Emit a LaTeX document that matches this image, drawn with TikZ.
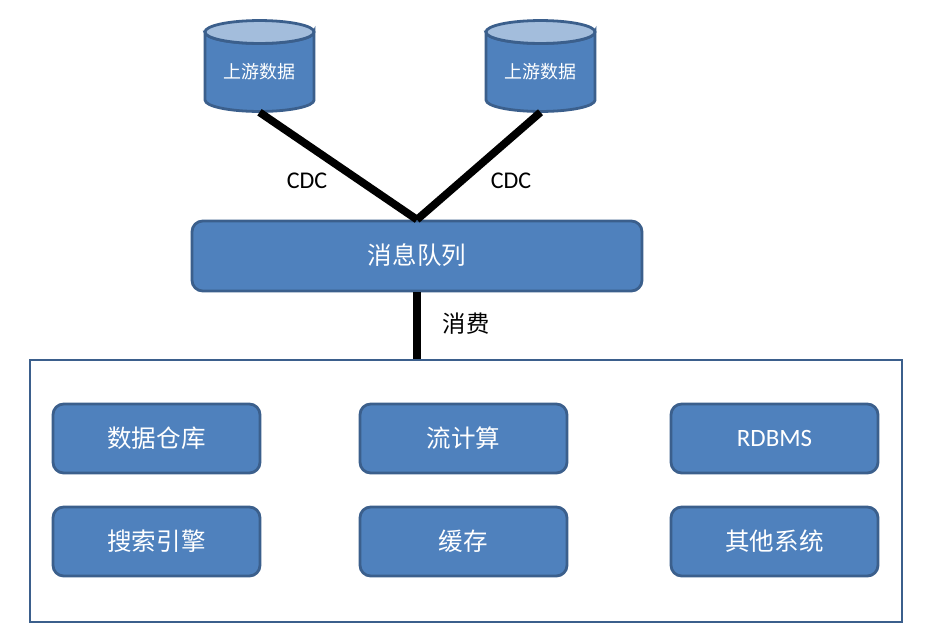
\documentclass[tikz,border=0pt]{standalone}
\usepackage{fontspec}
\setmainfont{Carlito}
\newfontfamily\cjk{Noto Sans CJK SC}[Scale=1.0]
\definecolor{boxfill}{HTML}{4F81BD}
\definecolor{boxline}{HTML}{3B5F8C}
\definecolor{boxtop}{HTML}{A3BDDC}
\tikzset{
  x=0.75pt,y=-0.75pt,
  rbox/.style={draw=boxline,fill=boxfill,line width=2.1pt,rounded corners=8pt,text=white,inner sep=0pt,anchor=center,font=\fontsize{18.4}{20}\selectfont\cjk},
  smallbox/.style={rbox,minimum width=155.25pt,minimum height=51.75pt},
  dbbody/.style={draw=none,inner sep=0pt,minimum width=81.75pt,minimum height=69pt,text=white,font=\fontsize{13.5}{15}\selectfont\cjk},
  link/.style={line width=5.8pt,black},
  lbl/.style={inner sep=0pt,text=black},
  dbline/.style={draw=boxline,line width=2.1pt},
}
\newcommand{\dbshape}[2]{%
  \path[dbline,fill=boxfill] (#1-54.5,#2-34) -- (#1-54.5,#2+34)
    arc[start angle=180,end angle=360,x radius=40.9pt,y radius=8.6pt]
    -- (#1+54.5,#2-34)
    arc[start angle=0,end angle=-180,x radius=40.9pt,y radius=8.6pt] -- cycle;
  \path[dbline,fill=boxtop] (#1,#2-34) ellipse[x radius=40.9pt,y radius=8.6pt];
}
\begin{document}
\begin{tikzpicture}
\useasboundingbox (0,0) rectangle (925,640);
\fill[white] (0,0) rectangle (925,640);
\dbshape{259.5}{66}
\dbshape{540.5}{66}
\node[dbbody] (up1) at (259.5,66) {\smash{\raisebox{-9pt}{上游数据}}};
\node[dbbody] (up2) at (540.5,66) {\smash{\raisebox{-9pt}{上游数据}}};
\node[rbox,minimum width=337.5pt,minimum height=52.5pt] (queue) at (417,256) {\raisebox{2.5pt}{消息队列}};
\node[draw=boxline,fill=white,line width=2.1pt,inner sep=0pt,minimum width=654pt,minimum height=196.5pt] (sys) at (466,491) {};
\draw[link] (up1.south) -- (queue.north);
\draw[link] (up2.south) -- (queue.north);
\draw[link] (queue.south) -- (sys.north -| queue.south);
\node[lbl,font=\fontsize{18}{20}\selectfont] (c1) at (307,181) {CDC};
\node[lbl,font=\fontsize{18}{20}\selectfont] (c2) at (511,181) {CDC};
\node[lbl,font=\fontsize{17.5}{20}\selectfont\cjk] (c3) at (466,324) {消费};
\node[smallbox] (a1) at (156.5,438.5) {数据仓库};
\node[smallbox] (a2) at (463.5,438.5) {流计算};
\node[smallbox,font=\fontsize{18.7}{20}\selectfont] (a3) at (774.5,438.5) {RDBMS};
\node[smallbox] (b1) at (156.5,541.5) {搜索引擎};
\node[smallbox] (b2) at (463.5,541.5) {缓存};
\node[smallbox] (b3) at (774.5,541.5) {其他系统};
\end{tikzpicture}
\end{document}
